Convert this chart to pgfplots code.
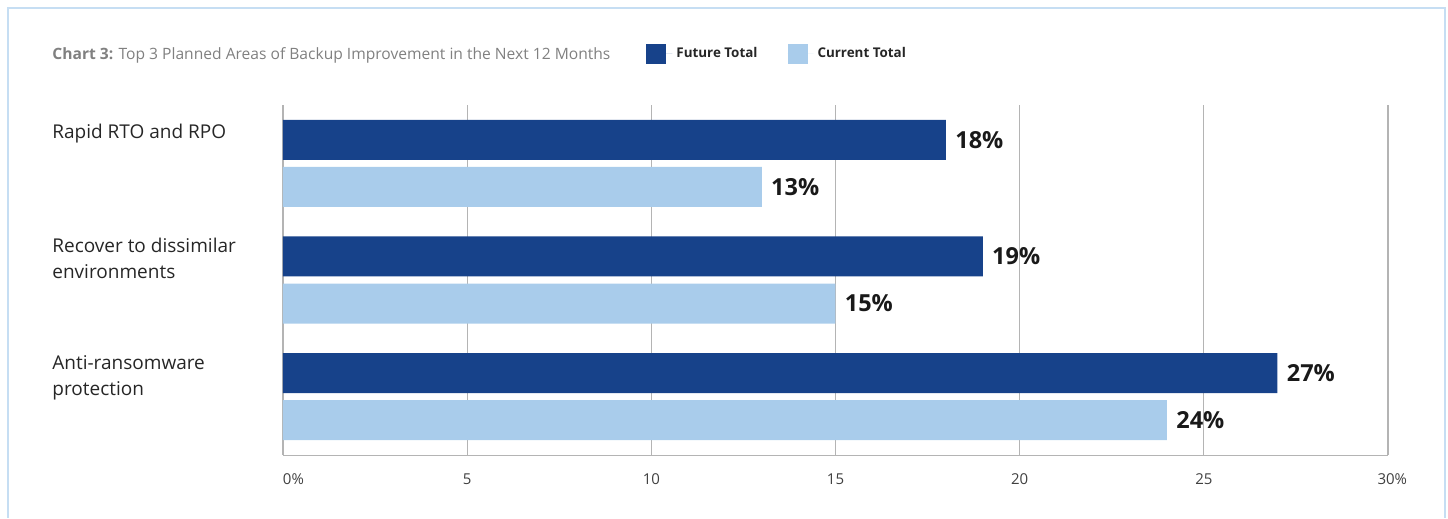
\documentclass[border=0pt]{standalone}
\usepackage{pgfplots}
\pgfplotsset{compat=1.18}
\usepackage{fontspec}
\setmainfont{Open Sans}
\definecolor{future}{HTML}{17428A}
\definecolor{current}{HTML}{A9CCEB}
\definecolor{frameblue}{HTML}{C6DEF3}
\definecolor{gridgray}{HTML}{B4B4B4}
\definecolor{titlegray}{HTML}{808080}
\begin{document}
\begin{tikzpicture}
% page and frame (1px = 0.5pt)
\path (0,0) rectangle (724pt,258pt);
\draw[frameblue, line width=1pt] (4pt,-1pt) -- (4pt,254pt) -- (722.5pt,254pt) -- (722.5pt,-1pt);
\node[anchor=west, inner sep=0pt, text=titlegray, font=\fontsize{7.8}{9}\selectfont]
  at (26pt,230.5pt) {\textbf{Chart 3:} Top 3 Planned Areas of Backup Improvement in the Next 12 Months};
\begin{axis}[
  at={(141.5pt,30.5pt)}, anchor=south west,
  scale only axis, width=552.5pt, height=175pt,
  xmin=0, xmax=30, ymin=-0.5, ymax=2.5,
  xbar, bar width=20pt, bar shift=0pt,
  axis x line*=bottom, axis y line*=left,
  axis line style={gridgray},
  xtick={0,5,...,30}, xticklabels={\phantom{0\%}0\%,5,10,15,20,25,\phantom{3}30\%},
  xmajorgrids, grid style={gridgray, line width=0.6pt},
  major tick length=0pt,
  xticklabel style={font=\fontsize{7.5}{9}\selectfont, text=black!75, yshift=-6pt},
  ytick={0,1,2},
  yticklabels={{Anti-ransomware\\protection},{Recover to dissimilar\\environments},{\rule{0pt}{8.2pt}Rapid RTO and RPO}},
  yticklabel style={anchor=north west, align=left, inner sep=0pt, xshift=-115.5pt, yshift=21pt,
    font=\fontsize{9.5}{13}\selectfont, text=black!85},
  point meta=x,
  /pgf/number format/assume math mode=true,
  nodes near coords={\pgfmathprintnumber{\pgfplotspointmeta}\%},
  nodes near coords style={anchor=west, inner sep=0pt, xshift=4.5pt,
    font=\bfseries\fontsize{11.75}{12}\selectfont, text=black!90},
  legend columns=2,
  legend style={at={(0.3231,1.1457)}, anchor=west, draw=none, fill=none,
    font=\bfseries\fontsize{6.7}{8}\selectfont, text=black!85,
    /tikz/every even column/.append style={column sep=13pt}},
  legend image code/.code={\fill[#1, draw=none] (0pt,-5pt) rectangle (10pt,5pt);
    \path (0pt,0pt) -- (13pt,0pt);},
]
\addplot[fill=future, draw=none] coordinates {(18,2.2017) (19,1.2017) (27,0.2017)};
\addplot[fill=current, draw=none] coordinates {(13,1.7983) (15,0.7983) (24,-0.2017)};
\legend{Future Total, Current Total}
\end{axis}
\end{tikzpicture}
\end{document}
